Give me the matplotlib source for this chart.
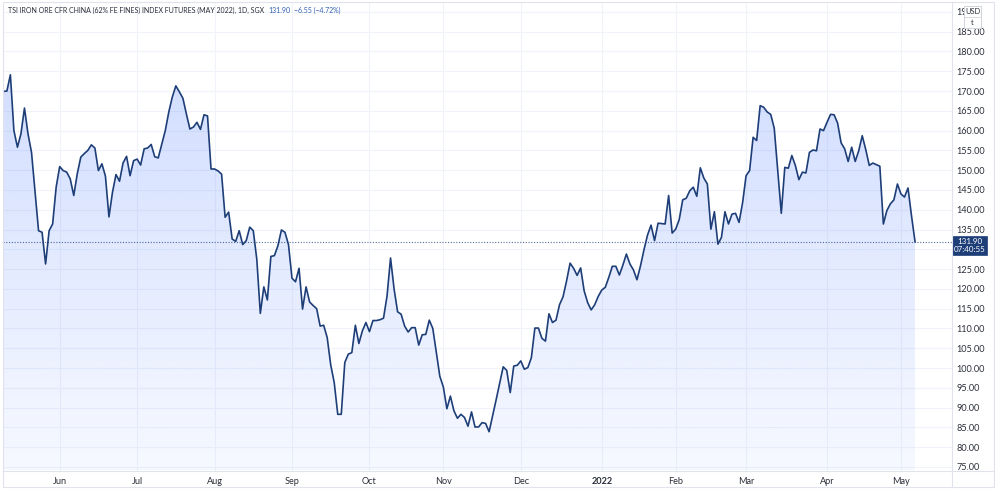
import numpy as np
import pandas as pd
import matplotlib
matplotlib.use("Agg")
import matplotlib.pyplot as plt
from matplotlib.patches import Rectangle

# ---------------- data ----------------
dates = pd.bdate_range("2021-05-10", "2022-05-06")
closes = [
    169.9, 170.0, 174.1, 160.0, 155.8, 159.2, 165.7, 159.2, 154.5, 144.6,
    134.7, 134.3, 126.3, 134.7, 136.4, 145.7, 150.9, 149.9, 149.5, 147.8,
    143.6, 149.1, 153.3, 154.2, 155.0, 156.4, 155.6, 149.9, 151.6, 148.5,
    138.2, 144.4, 148.9, 147.2, 151.8, 153.5, 148.6, 152.4, 152.8, 151.3,
    155.4, 155.6, 156.5, 153.4, 153.1, 156.6, 160.0, 164.7, 168.5, 171.3,
    169.8, 168.2, 164.2, 160.4, 160.9, 162.1, 160.3, 164.0, 163.7, 150.3,
    150.3, 149.8, 149.0, 138.1, 139.4, 132.6, 132.0, 134.7, 131.2, 132.2,
    135.6, 134.7, 127.5, 113.8, 120.5, 117.2, 128.2, 128.4, 130.9, 134.9,
    134.3, 131.2, 122.7, 121.8, 125.2, 114.9, 120.5, 116.7, 115.8, 115.0,
    110.6, 110.8, 107.7, 100.8, 96.3, 88.3, 88.3, 101.4, 103.5, 103.9,
    110.8, 106.2, 109.4, 111.5, 109.2, 112.0, 112.0, 112.2, 112.6, 118.2,
    127.8, 120.0, 114.2, 113.6, 110.6, 109.1, 110.2, 110.2, 105.8, 108.4,
    108.5, 112.1, 110.0, 103.9, 97.9, 95.2, 89.7, 92.9, 89.2, 87.3,
    88.3, 87.5, 85.3, 88.9, 85.1, 85.1, 86.2, 86.0, 83.9, 87.9,
    92.0, 96.2, 100.3, 99.4, 93.8, 100.5, 100.7, 101.8, 99.7, 100.1,
    102.6, 110.1, 110.1, 107.5, 106.8, 113.7, 111.5, 112.1, 116.0, 118.0,
    122.0, 126.5, 125.2, 123.4, 125.3, 119.5, 116.5, 114.7, 116.0, 118.1,
    119.7, 120.4, 122.9, 125.7, 125.7, 123.5, 126.0, 128.8, 126.3, 124.8,
    122.3, 125.8, 129.9, 133.6, 136.1, 132.2, 136.6, 136.5, 136.4, 143.6,
    134.1, 135.1, 137.5, 142.5, 142.9, 144.8, 145.7, 143.4, 150.6, 148.0,
    146.5, 135.1, 139.5, 131.3, 133.0, 139.5, 136.4, 138.9, 139.1, 136.8,
    141.7, 148.6, 149.9, 158.3, 157.5, 166.3, 165.9, 164.7, 164.1, 160.6,
    149.9, 139.1, 150.7, 150.5, 153.7, 151.2, 147.6, 149.5, 149.3, 154.5,
    155.1, 154.9, 160.4, 160.0, 162.1, 164.1, 164.0, 161.9, 156.9, 155.4,
    152.2, 155.8, 152.2, 154.9, 158.7, 155.2, 151.2, 151.8, 151.4, 151.0,
    136.4, 139.8, 141.5, 142.5, 146.5, 144.0, 143.2, 145.5, 138.45, 131.9,
]
last_change = -6.55
last_pct = -4.72
price_ticks = list(range(75, 195, 5))
title = "TSI IRON ORE CFR CHINA (62% FE FINES) INDEX FUTURES (MAY 2022), 1D, SGX"
countdown = "07:40:55"
currency = "USD"
unit = "t"

# ---------------- style ----------------
plt.rcParams['font.family'] = ['Lato', 'DejaVu Sans']
NAVY = '#1e3e78'
GRID = '#f0f3fa'
BORDER = '#e0e3eb'
TXT = '#2a2e39'
BLUE_TXT = '#2f5fb3'

W, H = 1000, 491
fig = plt.figure(figsize=(W / 100, H / 100), dpi=100)
fig.patch.set_facecolor('white')

# plot area in pixels
L, R, T, B = 3, 952, 2, 470.5
ax = fig.add_axes([L / W, 1 - B / H, (R - L) / W, (B - T) / H])
ax.set_facecolor('white')

x = np.arange(len(closes))
ymin, ymax = 74.1, 192.5
xmin, xmax = -0.1, 269.5

# gradient area fill
poly = ax.fill_between(x, closes, ymin, facecolor='none', edgecolor='none')
grad = np.zeros((256, 1, 4))
grad[..., 0] = 41 / 255
grad[..., 1] = 98 / 255
grad[..., 2] = 1.0
grad[:, 0, 3] = np.linspace(0.04, 0.21, 256)
im = ax.imshow(grad, extent=[x[0], x[-1], ymin, max(closes)], origin='lower',
               aspect='auto', zorder=1, interpolation='bilinear')
im.set_clip_path(poly.get_paths()[0], transform=ax.transData)

ax.plot(x, closes, color=NAVY, lw=1.2, zorder=3, solid_joinstyle='round')
ax.axhline(closes[-1], color=NAVY, lw=0.8, ls=(0, (1, 1.5)), alpha=0.75, zorder=2)

ax.set_xlim(xmin, xmax)
ax.set_ylim(ymin, ymax)

# month ticks from dates
tick_idx = [i for i in range(1, len(dates)) if dates[i].month != dates[i - 1].month]
tick_lab = ['2022' if dates[i].month == 1 else dates[i].strftime('%b') for i in tick_idx]
ax.set_xticks(tick_idx)
ax.set_xticklabels(tick_lab)
for lbl, t in zip(ax.get_xticklabels(), tick_lab):
    if t == '2022':
        lbl.set_fontweight('bold')
ax.tick_params(axis='x', length=0, pad=5, labelsize=6.6, labelcolor=TXT)

# price scale labels; the top one is mostly covered by the currency box and the
# one next to the last price sits under the price label (as in the source)
ylabels = []
for v in price_ticks:
    if v == price_ticks[-1]:
        ylabels.append(f"{v:.2f}"[:2])
    elif abs(v - closes[-1]) < 3:
        ylabels.append("")
    else:
        ylabels.append(f"{v:.2f}")
ax.yaxis.tick_right()
ax.set_yticks(price_ticks)
ax.set_yticklabels(ylabels)
ax.tick_params(axis='y', length=0, pad=3, labelsize=6.6, labelcolor=TXT)

ax.grid(True, color=GRID, lw=0.8, zorder=0)
ax.set_axisbelow(True)
for s in ax.spines.values():
    s.set_visible(False)

# ---------------- overlay (frame, labels) ----------------
ov = fig.add_axes([0, 0, 1, 1], zorder=10)
ov.set_xlim(0, W)
ov.set_ylim(H, 0)
ov.axis('off')
ov.patch.set_alpha(0)

ov.add_patch(Rectangle((L, T), 994 - L, 487 - T, fill=False, ec=BORDER, lw=0.8))
ov.plot([R, R], [T, 487], color=BORDER, lw=0.8)
ov.plot([L, 994], [B, B], color=BORDER, lw=0.8)

# last price label on price axis
fig.canvas.draw()
py = H - ax.transData.transform((0, closes[-1]))[1]
ov.add_patch(Rectangle((R, py - 5.5), 35, 19, fc=NAVY, ec=NAVY, lw=0.5))
ov.text(R + 17.5, py + 4.0, f"{closes[-1]:.2f}\n{countdown}", color='white',
        fontsize=5.8, ha='center', va='center', linespacing=1.15)

# currency / unit box
ov.add_patch(Rectangle((964, 6), 17, 22, fc='white', ec='#d1d4dc', lw=0.7))
ov.plot([964, 981], [17, 17], color='#d1d4dc', lw=0.6)
ov.text(972.5, 11.5, currency, fontsize=5.4, color=TXT, ha='center', va='center')
ov.text(972.5, 22.5, unit, fontsize=5.4, color=TXT, ha='center', va='center')

# title / legend
t1 = ov.text(8, 10, title, fontsize=5.0, color=TXT, ha='left', va='center')
t2 = ov.annotate(f"{closes[-1]:.2f}", xy=(1, 0.5), xycoords=t1, xytext=(4, 0),
                 textcoords='offset pixels', fontsize=5.0, color=BLUE_TXT,
                 ha='left', va='center')
ov.annotate(f"\u2212{abs(last_change):.2f} (\u2212{abs(last_pct):.2f}%)", xy=(1, 0.5),
            xycoords=t2, xytext=(4, 0), textcoords='offset pixels', fontsize=5.0,
            color=BLUE_TXT, ha='left', va='center')

fig.savefig('out.png', dpi=100, facecolor='white')
